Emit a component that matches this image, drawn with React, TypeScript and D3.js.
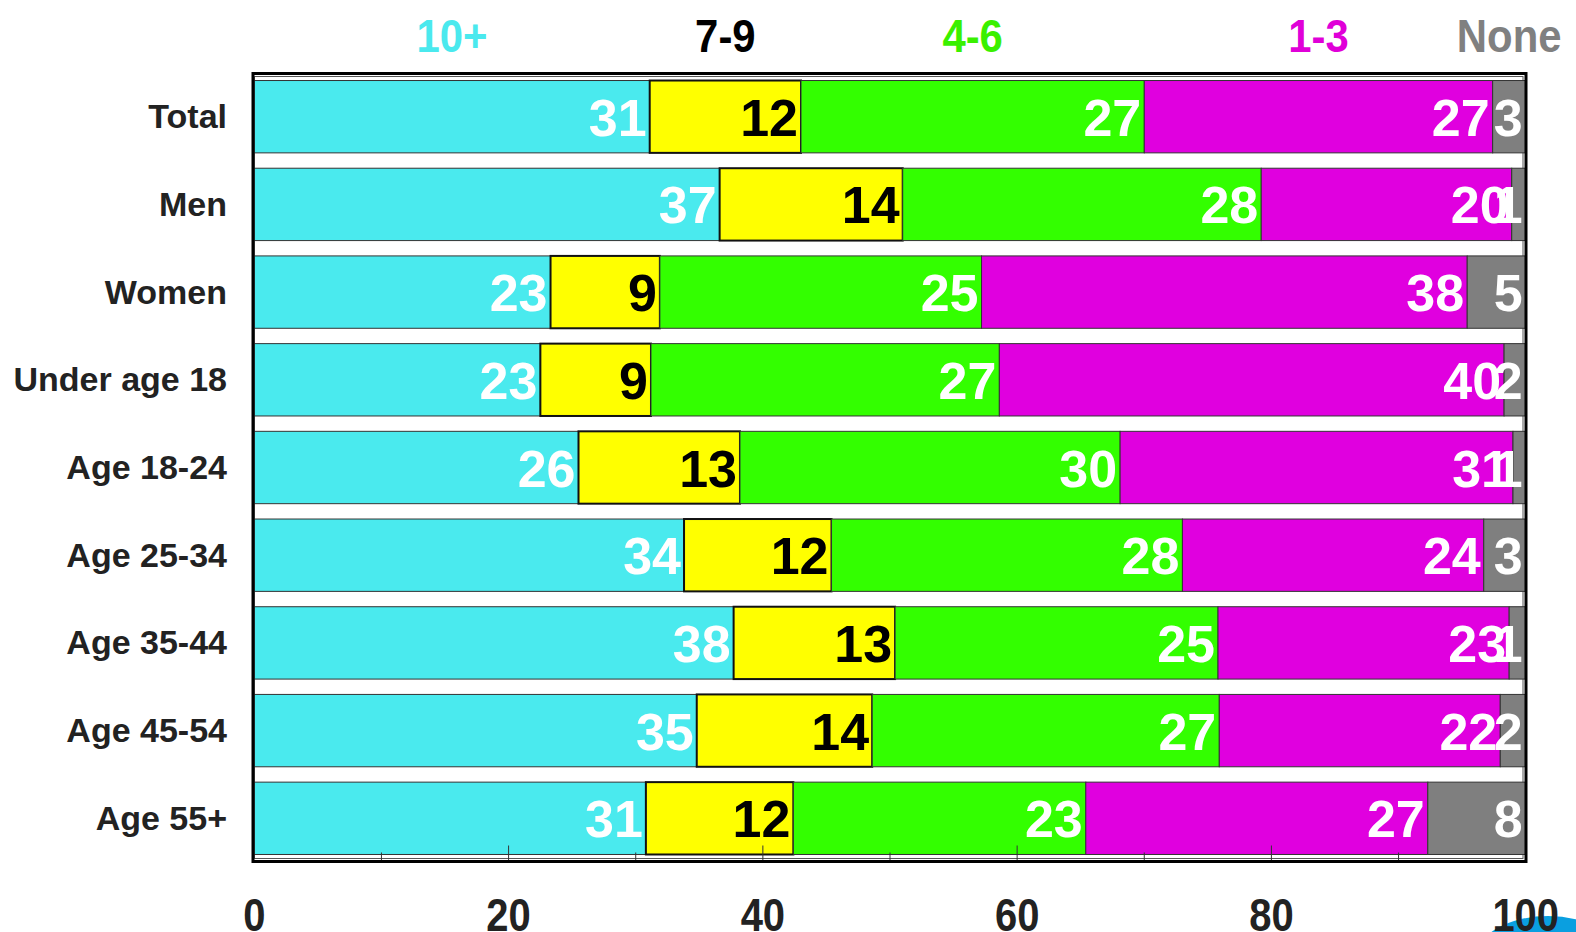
import React from "react";
import * as d3 from "d3";

// rows, top to bottom
const categories = [
  "Total",
  "Men",
  "Women",
  "Under age 18",
  "Age 18-24",
  "Age 25-34",
  "Age 35-44",
  "Age 45-54",
  "Age 55+",
];

const seriesNames = ["10+", "7-9", "4-6", "1-3", "None"];
const seriesColors = ["#4aeaee", "#ffff00", "#33ff00", "#e000df", "#7f7f7f"];
const legendColors = ["#4ae9ee", "#000000", "#3af000", "#e000d8", "#808080"];
const labelColors = ["#ffffff", "#000000", "#ffffff", "#ffffff", "#ffffff"];

// percentages
const tenPlus = [31.1, 36.6, 23.3, 22.5, 25.5, 33.8, 37.7, 34.8, 30.8];
const sevenToNine = [11.9, 14.4, 8.6, 8.7, 12.7, 11.6, 12.7, 13.8, 11.6];
const fourToSix = [27.0, 28.2, 25.3, 27.4, 29.9, 27.6, 25.4, 27.3, 23.0];
const oneToThree = [27.4, 19.7, 38.2, 39.7, 30.9, 23.7, 22.9, 22.1, 26.9];
const none = [2.6, 1.1, 4.6, 1.7, 1.0, 3.3, 1.3, 2.0, 7.7];

const xTickLabels = [0, 20, 40, 60, 80, 100];
const minorTicks = [10, 30, 50, 70, 90];

const W = 1576;
const H = 932;
const FONT = "'Liberation Sans', Arial, Helvetica, sans-serif";

export default function App() {
  const seriesValues = [tenPlus, sevenToNine, fourToSix, oneToThree, none];
  const rows = categories.map((c, i) => {
    const r: any = { category: c };
    seriesNames.forEach((s, k) => (r[s] = seriesValues[k][i]));
    return r;
  });
  const stacked = d3.stack().keys(seriesNames)(rows);

  const x = d3.scaleLinear().domain([0, 100]).range([254.3, 1525.7]);
  const y = d3
    .scaleBand()
    .domain(categories)
    .range([73.5, 861.5])
    .paddingInner(0.175)
    .paddingOuter(0.08);

  const frameLeft = 253;
  const frameRight = 1526;
  const frameTop = 73.5;
  const frameBottom = 861.5;
  const bw = y.bandwidth();

  return (
    <svg
      width={W}
      height={H}
      style={{ position: "absolute", left: 0, top: 0, background: "#fff" }}
      fontFamily={FONT}
      fontWeight="bold"
    >
      {/* inner thin border */}
      <rect
        x={frameLeft + 1.5}
        y={frameTop + 3}
        width={frameRight - frameLeft - 4.5}
        height={frameBottom - frameTop - 6}
        fill="#fff"
        stroke="#555"
        strokeWidth={1}
      />

      {/* bars */}
      {stacked.map((layer, k) => (
        <g key={layer.key}>
          {layer.map((d: any, i: number) => (
            <rect
              key={i}
              x={x(d[0])}
              y={y(categories[i])}
              width={x(d[1]) - x(d[0])}
              height={bw}
              fill={seriesColors[k]}
              stroke={k === 1 ? "#111" : "#333"}
              strokeWidth={k === 1 ? 2 : 1}
            />
          ))}
        </g>
      ))}

      {/* value labels */}
      {stacked.map((layer, k) => (
        <g key={"lab" + layer.key}>
          {layer.map((d: any, i: number) => (
            <text
              key={i}
              x={x(d[1]) - 3}
              y={(y(categories[i]) as number) + bw / 2 + 19}
              textAnchor="end"
              fontSize={52}
              fill={labelColors[k]}
            >
              {Math.round(d[1] - d[0])}
            </text>
          ))}
        </g>
      ))}

      {/* ticks */}
      {xTickLabels
        .filter((t) => t > 0 && t < 100)
        .map((t) => (
          <line
            key={"M" + t}
            x1={x(t)}
            x2={x(t)}
            y1={frameBottom - 1.5}
            y2={frameBottom - 16}
            stroke="#333"
            strokeWidth={1}
          />
        ))}
      {minorTicks.map((t) => (
        <line
          key={"m" + t}
          x1={x(t)}
          x2={x(t)}
          y1={frameBottom - 1.5}
          y2={frameBottom - 9}
          stroke="#333"
          strokeWidth={1}
        />
      ))}

      {/* outer frame */}
      <rect
        x={frameLeft}
        y={frameTop}
        width={frameRight - frameLeft}
        height={frameBottom - frameTop}
        fill="none"
        stroke="#000"
        strokeWidth={3}
      />

      {/* category labels */}
      {categories.map((c) => (
        <text
          key={c}
          x={227}
          y={(y(c) as number) + bw / 2 + 11.5}
          textAnchor="end"
          fontSize={34}
          fill="#222"
        >
          {c}
        </text>
      ))}

      {/* legend along top, centred on the Total row segments */}
      {stacked.map((layer, k) => (
        <text
          key={"leg" + layer.key}
          transform={`translate(${x((layer[0][0] + layer[0][1]) / 2)},52) scale(0.91,1)`}
          textAnchor="middle"
          fontSize={46}
          fill={legendColors[k]}
        >
          {seriesNames[k]}
        </text>
      ))}

      {/* decorative logo fragment behind the last tick label */}
      <ellipse cx={1548} cy={958} rx={72} ry={42} fill="#0a9fe0" />

      {/* x-axis labels */}
      {xTickLabels.map((t) => (
        <text
          key={"t" + t}
          transform={`translate(${x(t)},931) scale(0.85,1)`}
          textAnchor="middle"
          fontSize={47}
          fill="#222"
        >
          {t}
        </text>
      ))}
    </svg>
  );
}
